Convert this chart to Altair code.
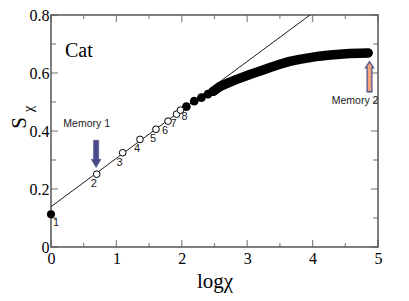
import altair as alt
import pandas as pd

# ---- data ----
first_x = [0.0]
first_s = [0.113]
first_lab = ["1"]

open_x = [0.699, 1.096, 1.36, 1.605, 1.79, 1.92, 1.98]
open_s = [0.251, 0.325, 0.371, 0.406, 0.434, 0.458, 0.472]
open_lab = ["2", "3", "4", "5", "6", "7", "8"]

dot_x = [2.07, 2.19, 2.30, 2.40, 2.48]
dot_s = [0.484, 0.503, 0.515, 0.527, 0.537]

curve_x = [2.48, 2.58, 2.71, 2.84, 3.04, 3.2, 3.35, 3.5, 3.65, 3.8, 3.96, 4.1, 4.27, 4.42, 4.57, 4.72, 4.85]
curve_s = [0.537, 0.553, 0.566, 0.578, 0.595, 0.607, 0.619, 0.630, 0.640, 0.647, 0.653, 0.658, 0.662, 0.665, 0.667, 0.668, 0.669]

fit_x = [0.0, 3.96]
fit_s = [0.139, 0.8]

x_major = [0, 1, 2, 3, 4, 5]
x_minor = [0.5, 1.5, 2.5, 3.5, 4.5]
y_major = [0, 0.2, 0.4, 0.6, 0.8]
y_minor = [0.1, 0.3, 0.5, 0.7]

mem_lab = ["Memory 1", "Memory 2"]
mem_text_x = [0.546, 4.65]
mem_text_y = [0.423, 0.503]
mem_arrow_x = [0.69, 4.87]
mem_arrow_y = [0.321, 0.587]

W, H = 327, 232
xs = alt.Scale(domain=[0, 5], nice=False, zero=False)
ys = alt.Scale(domain=[0, 0.8], nice=False, zero=False)
SERIF = "Liberation Serif, serif"
SANS = "Liberation Sans, Arial, sans-serif"
AX = "#555555"

font_kw = dict(labelFont=SERIF, labelFontSize=16, labelColor="black",
               titleFont=SERIF, titleFontSize=21, titleFontWeight="normal",
               titleColor="black")
x_axis = alt.Axis(values=x_major, ticks=False, domain=False, grid=False,
                  labelFlush=False, labelPadding=3, titlePadding=4, format="d", **font_kw)
y_axis = alt.Axis(values=y_major, ticks=False, domain=False, grid=False,
                  labelFlush=False, labelPadding=2,
                  labelExpr="datum.value == 0 ? '0' : format(datum.value, '.1f')", **font_kw)


def X(f="x"):
    return alt.X(f"{f}:Q", scale=xs, axis=x_axis, title="logχ")


def Y(f="s"):
    return alt.Y(f"{f}:Q", scale=ys, axis=y_axis, title=None)


df_first = pd.DataFrame({"x": first_x, "s": first_s, "lab": first_lab})
df_open = pd.DataFrame({"x": open_x, "s": open_s, "lab": open_lab})
df_dot = pd.DataFrame({"x": dot_x, "s": dot_s})
df_curve = pd.DataFrame({"x": curve_x, "s": curve_s})
df_fit = pd.DataFrame({"x": fit_x, "s": fit_s})


def ticks(vals, side, size):
    d = pd.DataFrame({"v": vals})
    if side in ("bottom", "top"):
        yv = 0 if side == "bottom" else 0.8
        off = -size / 2 if side == "bottom" else size / 2
        return alt.Chart(d).mark_tick(orient="vertical", size=size, thickness=1.2,
                                      color=AX, yOffset=off).encode(
            x=X("v"), y=alt.YDatum(yv, scale=ys, axis=y_axis, title=None))
    else:
        xv = 0 if side == "left" else 5
        off = size / 2 if side == "left" else -size / 2
        return alt.Chart(d).mark_tick(orient="horizontal", size=size, thickness=1.2,
                                      color=AX, xOffset=off).encode(
            y=Y("v"), x=alt.XDatum(xv, scale=xs, axis=x_axis, title="logχ"))


tick_layers = []
for side in ("bottom", "top"):
    tick_layers.append(ticks(x_major, side, 7))
    tick_layers.append(ticks(x_minor, side, 4))
for side in ("left", "right"):
    tick_layers.append(ticks(y_major, side, 7))
    tick_layers.append(ticks(y_minor, side, 5))

fit = alt.Chart(df_fit).mark_line(color="black", strokeWidth=0.9, clip=True).encode(x=X(), y=Y())

curve = alt.Chart(df_curve).mark_line(color="black", strokeWidth=9.5, strokeCap="round",
                                      strokeJoin="round").encode(x=X(), y=Y())
dots = alt.Chart(df_dot).mark_circle(color="black", size=75, opacity=1).encode(x=X(), y=Y())
first = alt.Chart(df_first).mark_circle(color="black", size=65, opacity=1).encode(x=X(), y=Y())
opens = alt.Chart(df_open).mark_point(shape="circle", filled=True, fill="white", stroke="black",
                                      strokeWidth=1, size=45, opacity=1).encode(x=X(), y=Y())

lab_common = dict(font=SANS, fontSize=11, color="#222222", align="center", baseline="middle")
lab1 = alt.Chart(df_first).mark_text(dx=5, dy=9, **lab_common).encode(x=X(), y=Y(), text="lab:N")
lab_mid = alt.Chart(df_open).transform_filter("datum.lab != '8'").mark_text(
    dx=-3, dy=10, **lab_common).encode(x=X(), y=Y(), text="lab:N")
lab8 = alt.Chart(df_open).transform_filter("datum.lab == '8'").mark_text(
    dx=4, dy=7, **lab_common).encode(x=X(), y=Y(), text="lab:N")

df_mem = pd.DataFrame({"lab": mem_lab, "tx": mem_text_x, "ty": mem_text_y,
                       "ax": mem_arrow_x, "ay": mem_arrow_y})
mem_text = alt.Chart(df_mem).mark_text(font=SANS, fontSize=10.5, color="#222222",
                                       align="center", baseline="middle").encode(
    x=X("tx"), y=Y("ty"), text="lab:N")

arrow_down = "M -0.19 -1 L 0.19 -1 L 0.19 0.39 L 0.36 0.39 L 0 1 L -0.36 0.39 L -0.19 0.39 Z"
arrow_up = "M -0.16 1 L 0.16 1 L 0.16 -0.6 L 0.27 -0.6 L 0 -1 L -0.27 -0.6 L -0.16 -0.6 Z"
arrow1 = alt.Chart(df_mem).transform_filter("datum.lab == 'Memory 1'").mark_point(
    shape=arrow_down, size=750, filled=True, fill="#4a4a88", stroke="#4a4a88",
    strokeWidth=0.5, opacity=1).encode(x=X("ax"), y=Y("ay"))
arrow2 = alt.Chart(df_mem).transform_filter("datum.lab == 'Memory 2'").mark_point(
    shape=arrow_up, size=900, filled=True, fill="#f2a57a", stroke="#55558a",
    strokeWidth=1.3, opacity=1).encode(x=X("ax"), y=Y("ay"))

cat = alt.Chart(pd.DataFrame({"t": ["Cat"]})).mark_text(
    font=SERIF, fontSize=20, color="black", align="left", baseline="middle").encode(
    x=alt.value(14), y=alt.value(36), text="t:N")

s_title = alt.Chart(pd.DataFrame({"t": ["S"]})).mark_text(
    font=SERIF, fontSize=21, color="black", angle=270, align="center", baseline="middle").encode(
    x=alt.value(-31), y=alt.value(108), text="t:N")
chi_title = alt.Chart(pd.DataFrame({"t": ["χ"]})).mark_text(
    font=SERIF, fontSize=15, color="black", angle=270, align="center", baseline="middle").encode(
    x=alt.value(-23), y=alt.value(94), text="t:N")

chart = alt.layer(
    *tick_layers, fit, curve, dots, first, opens, lab1, lab_mid, lab8,
    mem_text, arrow1, arrow2, cat, s_title, chi_title
).properties(
    width=W, height=H,
    background="white",
    autosize=alt.AutoSizeParams(type="none"),
    padding={"left": 43, "top": 7, "right": 23, "bottom": 46},
).configure_view(stroke=AX, strokeWidth=1.5).configure_axis(**font_kw)

chart.save("out.html", embed_options={"renderer": "svg", "actions": False})
